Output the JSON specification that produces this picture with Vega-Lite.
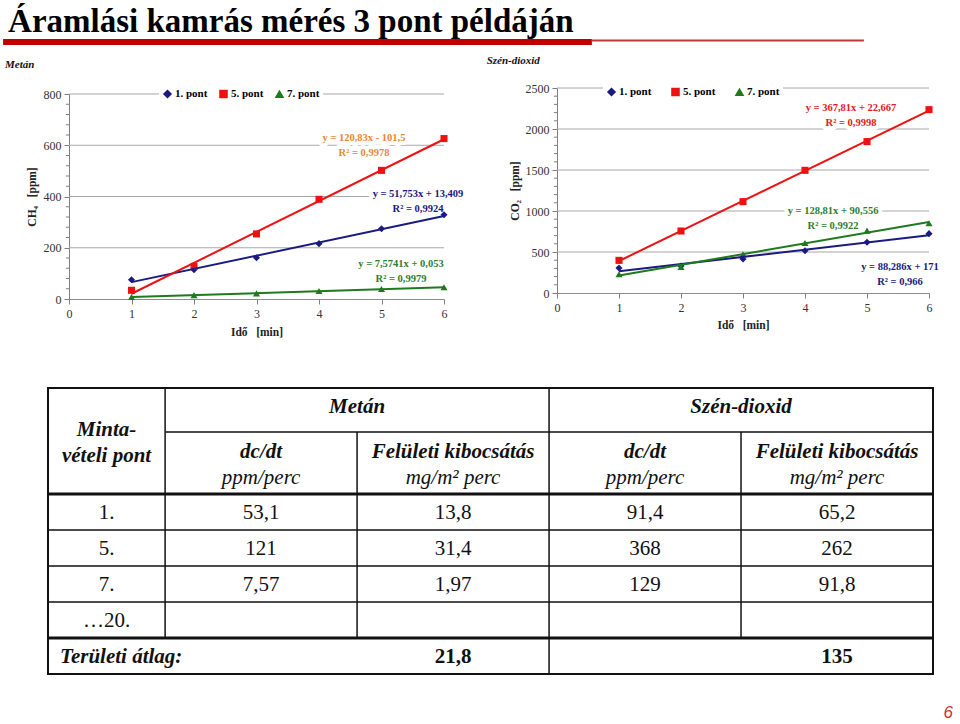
{
  "$schema": "https://vega.github.io/schema/vega-lite/v6.json",
  "width": 960,
  "height": 724,
  "padding": 0,
  "autosize": {"type": "none"},
  "background": "white",
  "config": {"view": {"stroke": null}, "font": "Liberation Serif"},
  "datasets": {
    "ch4": [
      {"x": 1, "y": 75, "series": "1. pont"}, {"x": 2, "y": 114, "series": "1. pont"}, {"x": 3, "y": 161, "series": "1. pont"},
      {"x": 4, "y": 216, "series": "1. pont"}, {"x": 5, "y": 274, "series": "1. pont"}, {"x": 6, "y": 329, "series": "1. pont"},
      {"x": 1, "y": 34, "series": "5. pont"}, {"x": 2, "y": 127, "series": "5. pont"}, {"x": 3, "y": 254, "series": "5. pont"},
      {"x": 4, "y": 389, "series": "5. pont"}, {"x": 5, "y": 502, "series": "5. pont"}, {"x": 6, "y": 626, "series": "5. pont"},
      {"x": 1, "y": 8, "series": "7. pont"}, {"x": 2, "y": 15, "series": "7. pont"}, {"x": 3, "y": 22, "series": "7. pont"},
      {"x": 4, "y": 31, "series": "7. pont"}, {"x": 5, "y": 39, "series": "7. pont"}, {"x": 6, "y": 46, "series": "7. pont"}
    ],
    "co2": [
      {"x": 1, "y": 305, "series": "1. pont"}, {"x": 2, "y": 330, "series": "1. pont"}, {"x": 3, "y": 415, "series": "1. pont"},
      {"x": 4, "y": 516, "series": "1. pont"}, {"x": 5, "y": 618, "series": "1. pont"}, {"x": 6, "y": 724, "series": "1. pont"},
      {"x": 1, "y": 398, "series": "5. pont"}, {"x": 2, "y": 756, "series": "5. pont"}, {"x": 3, "y": 1114, "series": "5. pont"},
      {"x": 4, "y": 1496, "series": "5. pont"}, {"x": 5, "y": 1846, "series": "5. pont"}, {"x": 6, "y": 2236, "series": "5. pont"},
      {"x": 1, "y": 228, "series": "7. pont"}, {"x": 2, "y": 317, "series": "7. pont"}, {"x": 3, "y": 472, "series": "7. pont"},
      {"x": 4, "y": 610, "series": "7. pont"}, {"x": 5, "y": 760, "series": "7. pont"}, {"x": 6, "y": 850, "series": "7. pont"}
    ],
    "minorA": [
      {"m": 40}, {"m": 80}, {"m": 120}, {"m": 160}, {"m": 240}, {"m": 280}, {"m": 320}, {"m": 360},
      {"m": 440}, {"m": 480}, {"m": 520}, {"m": 560}, {"m": 640}, {"m": 680}, {"m": 720}, {"m": 760}
    ],
    "minorB": [
      {"m": 100}, {"m": 200}, {"m": 300}, {"m": 400}, {"m": 600}, {"m": 700}, {"m": 800}, {"m": 900},
      {"m": 1100}, {"m": 1200}, {"m": 1300}, {"m": 1400}, {"m": 1600}, {"m": 1700}, {"m": 1800}, {"m": 1900},
      {"m": 2100}, {"m": 2200}, {"m": 2300}, {"m": 2400}
    ],
    "tableThin": [
      {"x": 0.61, "x2": 4.61, "y": 1.222, "y2": 1.222},
      {"x": 0, "x2": 4.61, "y": 3.944, "y2": 3.944},
      {"x": 0, "x2": 4.61, "y": 4.944, "y2": 4.944},
      {"x": 0, "x2": 4.61, "y": 5.944, "y2": 5.944},
      {"x": 0.61, "x2": 0.61, "y": 0, "y2": 6.944},
      {"x": 1.61, "x2": 1.61, "y": 1.222, "y2": 6.944},
      {"x": 2.61, "x2": 2.61, "y": 0, "y2": 7.944},
      {"x": 3.61, "x2": 3.61, "y": 1.222, "y2": 6.944}
    ],
    "tableThick": [
      {"x": 0, "x2": 4.61, "y": 2.944, "y2": 2.944},
      {"x": 0, "x2": 4.61, "y": 6.944, "y2": 6.944}
    ],
    "hdrBI": [
      {"c": 0.305, "r": 1.17, "t": "Minta-"},
      {"c": 0.305, "r": 1.89, "t": "vételi pont"},
      {"c": 1.61, "r": 0.53, "t": "Metán"},
      {"c": 3.61, "r": 0.53, "t": "Szén-dioxid"},
      {"c": 1.11, "r": 1.78, "t": "dc/dt"},
      {"c": 2.11, "r": 1.78, "t": "Felületi kibocsátás"},
      {"c": 3.11, "r": 1.78, "t": "dc/dt"},
      {"c": 4.11, "r": 1.78, "t": "Felületi kibocsátás"}
    ],
    "units": [
      {"c": 1.11, "r": 2.5, "t": "ppm/perc"},
      {"c": 2.11, "r": 2.5, "t": "mg/m² perc"},
      {"c": 3.11, "r": 2.5, "t": "ppm/perc"},
      {"c": 4.11, "r": 2.5, "t": "mg/m² perc"}
    ],
    "body": [
      {"c": 0.305, "r": 3.47, "t": "1."}, {"c": 1.11, "r": 3.47, "t": "53,1"}, {"c": 2.11, "r": 3.47, "t": "13,8"}, {"c": 3.11, "r": 3.47, "t": "91,4"}, {"c": 4.11, "r": 3.47, "t": "65,2"},
      {"c": 0.305, "r": 4.47, "t": "5."}, {"c": 1.11, "r": 4.47, "t": "121"}, {"c": 2.11, "r": 4.47, "t": "31,4"}, {"c": 3.11, "r": 4.47, "t": "368"}, {"c": 4.11, "r": 4.47, "t": "262"},
      {"c": 0.305, "r": 5.47, "t": "7."}, {"c": 1.11, "r": 5.47, "t": "7,57"}, {"c": 2.11, "r": 5.47, "t": "1,97"}, {"c": 3.11, "r": 5.47, "t": "129"}, {"c": 4.11, "r": 5.47, "t": "91,8"},
      {"c": 0.305, "r": 6.47, "t": "…20."}
    ],
    "footB": [
      {"c": 2.11, "r": 7.47, "t": "21,8"},
      {"c": 4.11, "r": 7.47, "t": "135"}
    ],
    "footL": [
      {"c": 0.0625, "r": 7.47, "t": "Területi átlag:"}
    ]
  },
  "layer": [
    {
      "layer": [
        {
          "data": {"values": [{"g": 200}, {"g": 400}, {"g": 600}, {"g": 800}]},
          "mark": {"type": "rule", "color": "#a8a8a8", "strokeWidth": 1},
          "encoding": {
            "x": {"datum": 0, "type": "quantitative"},
            "x2": {"datum": 6},
            "y": {"field": "g", "type": "quantitative"}
          }
        },
        {
          "data": {"name": "minorA"},
          "mark": {"type": "rule", "color": "#7f7f7f", "strokeWidth": 1},
          "encoding": {
            "x": {"datum": 0, "type": "quantitative"},
            "x2": {"datum": -0.05},
            "y": {"field": "m", "type": "quantitative"}
          }
        },
        {
          "data": {"values": [{}]},
          "mark": {"type": "text", "text": ["y = 120,83x - 101,5", "R² = 0,9978"], "lineHeight": 15, "font": "Liberation Serif", "fontSize": 10.5, "fontWeight": "bold", "fill": "white", "stroke": "white", "strokeWidth": 8, "strokeJoin": "round", "align": "center", "baseline": "middle"},
          "encoding": {"x": {"datum": 4.72, "type": "quantitative"}, "y": {"datum": 630, "type": "quantitative"}}
        },
        {
          "data": {"values": [{}]},
          "mark": {"type": "text", "text": ["y = 51,753x + 13,409", "R² = 0,9924"], "lineHeight": 15, "font": "Liberation Serif", "fontSize": 10.5, "fontWeight": "bold", "fill": "white", "stroke": "white", "strokeWidth": 8, "strokeJoin": "round", "align": "center", "baseline": "middle"},
          "encoding": {"x": {"datum": 5.584, "type": "quantitative"}, "y": {"datum": 408, "type": "quantitative"}}
        },
        {
          "data": {"values": [{}]},
          "mark": {"type": "text", "text": ["y = 7,5741x + 0,053", "R² = 0,9979"], "lineHeight": 15, "font": "Liberation Serif", "fontSize": 10.5, "fontWeight": "bold", "fill": "white", "stroke": "white", "strokeWidth": 8, "strokeJoin": "round", "align": "center", "baseline": "middle"},
          "encoding": {"x": {"datum": 5.312, "type": "quantitative"}, "y": {"datum": 138, "type": "quantitative"}}
        },
        {
          "data": {"name": "ch4"},
          "mark": {"type": "point", "filled": true, "opacity": 1, "size": 50},
          "encoding": {
            "x": {
              "field": "x", "type": "quantitative",
              "scale": {"domain": [0, 6], "range": [69, 444], "nice": false, "zero": false},
              "axis": {"title": "Idő\u00a0\u00a0\u00a0[min]", "orient": "bottom", "offset": -425, "values": [0, 1, 2, 3, 4, 5, 6], "format": "d", "grid": false, "domainColor": "#8c8c8c", "tickColor": "#7f7f7f", "tickSize": 5, "labelFont": "Liberation Serif", "labelFontSize": 12, "labelColor": "#333", "labelPadding": 4, "labelFlush": false, "labelOverlap": false, "titleFont": "Liberation Serif", "titleFontSize": 11.5, "titleFontWeight": "bold", "titleColor": "#222", "titlePadding": 7}
            },
            "y": {
              "field": "y", "type": "quantitative",
              "scale": {"domain": [0, 800], "range": [299, 94], "nice": false, "zero": false},
              "axis": {"title": "CH₄\u00a0\u00a0\u00a0[ppm]", "orient": "left", "offset": -69, "values": [0, 200, 400, 600, 800], "format": "d", "grid": false, "domainColor": "#7f7f7f", "tickColor": "#7f7f7f", "tickSize": 5, "labelFont": "Liberation Serif", "labelFontSize": 12, "labelColor": "#333", "labelPadding": 3, "labelFlush": false, "labelOverlap": false, "titleFont": "Liberation Serif", "titleFontSize": 11.5, "titleFontWeight": "bold", "titleColor": "#222", "titlePadding": 6}
            },
            "color": {
              "field": "series", "type": "nominal",
              "scale": {"domain": ["1. pont", "5. pont", "7. pont"], "range": ["#1a1a80", "#ee1111", "#1e7a1e"]},
              "legend": {"title": null, "orient": "none", "legendX": 159, "legendY": 85, "direction": "horizontal", "fillColor": "white", "padding": 3, "labelFont": "Liberation Serif", "labelFontWeight": "bold", "labelFontSize": 11, "labelColor": "black", "symbolSize": 50, "labelOffset": 2, "columnPadding": 8}
            },
            "shape": {
              "field": "series", "type": "nominal",
              "scale": {"domain": ["1. pont", "5. pont", "7. pont"], "range": ["diamond", "square", "triangle-up"]},
              "legend": {"title": null, "orient": "none", "legendX": 159, "legendY": 85, "direction": "horizontal", "fillColor": "white", "padding": 3, "labelFont": "Liberation Serif", "labelFontWeight": "bold", "labelFontSize": 11, "labelColor": "black", "symbolSize": 50, "labelOffset": 2, "columnPadding": 8}
            }
          }
        },
        {
          "data": {"name": "ch4"},
          "transform": [{"regression": "y", "on": "x", "groupby": ["series"]}],
          "mark": {"type": "line", "strokeWidth": 2},
          "encoding": {
            "x": {"field": "x", "type": "quantitative"},
            "y": {"field": "y", "type": "quantitative"},
            "color": {"field": "series", "type": "nominal", "legend": null}
          }
        },
        {
          "data": {"values": [{}]},
          "mark": {"type": "text", "text": ["y = 120,83x - 101,5", "R² = 0,9978"], "lineHeight": 15, "font": "Liberation Serif", "fontSize": 10.5, "fontWeight": "bold", "fill": "#e8873a", "align": "center", "baseline": "middle"},
          "encoding": {"x": {"datum": 4.72, "type": "quantitative"}, "y": {"datum": 630, "type": "quantitative"}}
        },
        {
          "data": {"values": [{}]},
          "mark": {"type": "text", "text": ["y = 51,753x + 13,409", "R² = 0,9924"], "lineHeight": 15, "font": "Liberation Serif", "fontSize": 10.5, "fontWeight": "bold", "fill": "#1a1a80", "align": "center", "baseline": "middle"},
          "encoding": {"x": {"datum": 5.584, "type": "quantitative"}, "y": {"datum": 408, "type": "quantitative"}}
        },
        {
          "data": {"values": [{}]},
          "mark": {"type": "text", "text": ["y = 7,5741x + 0,053", "R² = 0,9979"], "lineHeight": 15, "font": "Liberation Serif", "fontSize": 10.5, "fontWeight": "bold", "fill": "#2e7d32", "align": "center", "baseline": "middle"},
          "encoding": {"x": {"datum": 5.312, "type": "quantitative"}, "y": {"datum": 138, "type": "quantitative"}}
        },
        {
          "data": {"values": [{}]},
          "mark": {"type": "text", "text": "Metán", "font": "Liberation Serif", "fontSize": 11, "fontWeight": "bold", "fontStyle": "italic", "fill": "#111", "align": "left", "baseline": "middle"},
          "encoding": {"x": {"datum": -1.024, "type": "quantitative"}, "y": {"datum": 913, "type": "quantitative"}}
        }
      ]
    },
    {
      "layer": [
        {
          "data": {"values": [{"g": 500}, {"g": 1000}, {"g": 1500}, {"g": 2000}, {"g": 2500}]},
          "mark": {"type": "rule", "color": "#a8a8a8", "strokeWidth": 1},
          "encoding": {
            "x": {"datum": 0, "type": "quantitative"},
            "x2": {"datum": 6},
            "y": {"field": "g", "type": "quantitative"}
          }
        },
        {
          "data": {"name": "minorB"},
          "mark": {"type": "rule", "color": "#7f7f7f", "strokeWidth": 1},
          "encoding": {
            "x": {"datum": 0, "type": "quantitative"},
            "x2": {"datum": -0.05},
            "y": {"field": "m", "type": "quantitative"}
          }
        },
        {
          "data": {"values": [{}]},
          "mark": {"type": "text", "text": ["y = 367,81x + 22,667", "R² = 0,9998"], "lineHeight": 15, "font": "Liberation Serif", "fontSize": 10.5, "fontWeight": "bold", "fill": "white", "stroke": "white", "strokeWidth": 8, "strokeJoin": "round", "align": "center", "baseline": "middle"},
          "encoding": {"x": {"datum": 4.742, "type": "quantitative"}, "y": {"datum": 2252, "type": "quantitative"}}
        },
        {
          "data": {"values": [{}]},
          "mark": {"type": "text", "text": ["y = 128,81x + 90,556", "R² = 0,9922"], "lineHeight": 15, "font": "Liberation Serif", "fontSize": 10.5, "fontWeight": "bold", "fill": "white", "stroke": "white", "strokeWidth": 8, "strokeJoin": "round", "align": "center", "baseline": "middle"},
          "encoding": {"x": {"datum": 4.452, "type": "quantitative"}, "y": {"datum": 1000, "type": "quantitative"}}
        },
        {
          "data": {"values": [{}]},
          "mark": {"type": "text", "text": ["y = 88,286x + 171", "R² = 0,966"], "lineHeight": 15, "font": "Liberation Serif", "fontSize": 10.5, "fontWeight": "bold", "fill": "white", "stroke": "white", "strokeWidth": 8, "strokeJoin": "round", "align": "center", "baseline": "middle"},
          "encoding": {"x": {"datum": 5.532, "type": "quantitative"}, "y": {"datum": 317, "type": "quantitative"}}
        },
        {
          "data": {"name": "co2"},
          "mark": {"type": "point", "filled": true, "opacity": 1, "size": 50},
          "encoding": {
            "x": {
              "field": "x", "type": "quantitative",
              "scale": {"domain": [0, 6], "range": [557, 929], "nice": false, "zero": false},
              "axis": {"title": "Idő\u00a0\u00a0\u00a0[min]", "orient": "bottom", "offset": -431, "values": [0, 1, 2, 3, 4, 5, 6], "format": "d", "grid": false, "domainColor": "#8c8c8c", "tickColor": "#7f7f7f", "tickSize": 5, "labelFont": "Liberation Serif", "labelFontSize": 12, "labelColor": "#333", "labelPadding": 4, "labelFlush": false, "labelOverlap": false, "titleFont": "Liberation Serif", "titleFontSize": 11.5, "titleFontWeight": "bold", "titleColor": "#222", "titlePadding": 6}
            },
            "y": {
              "field": "y", "type": "quantitative",
              "scale": {"domain": [0, 2500], "range": [293, 88], "nice": false, "zero": false},
              "axis": {"title": "CO₂\u00a0\u00a0\u00a0[ppm]", "orient": "left", "offset": -557, "values": [0, 500, 1000, 1500, 2000, 2500], "format": "d", "grid": false, "domainColor": "#7f7f7f", "tickColor": "#7f7f7f", "tickSize": 5, "labelFont": "Liberation Serif", "labelFontSize": 12, "labelColor": "#333", "labelPadding": 3, "labelFlush": false, "labelOverlap": false, "titleFont": "Liberation Serif", "titleFontSize": 11.5, "titleFontWeight": "bold", "titleColor": "#222", "titlePadding": 5}
            },
            "color": {
              "field": "series", "type": "nominal",
              "scale": {"domain": ["1. pont", "5. pont", "7. pont"], "range": ["#1a1a80", "#ee1111", "#1e7a1e"]},
              "legend": {"title": null, "orient": "none", "legendX": 603, "legendY": 83, "direction": "horizontal", "fillColor": "white", "padding": 3, "labelFont": "Liberation Serif", "labelFontWeight": "bold", "labelFontSize": 11, "labelColor": "black", "symbolSize": 50, "labelOffset": 2, "columnPadding": 16}
            },
            "shape": {
              "field": "series", "type": "nominal",
              "scale": {"domain": ["1. pont", "5. pont", "7. pont"], "range": ["diamond", "square", "triangle-up"]},
              "legend": {"title": null, "orient": "none", "legendX": 603, "legendY": 83, "direction": "horizontal", "fillColor": "white", "padding": 3, "labelFont": "Liberation Serif", "labelFontWeight": "bold", "labelFontSize": 11, "labelColor": "black", "symbolSize": 50, "labelOffset": 2, "columnPadding": 16}
            }
          }
        },
        {
          "data": {"name": "co2"},
          "transform": [{"regression": "y", "on": "x", "groupby": ["series"]}],
          "mark": {"type": "line", "strokeWidth": 2},
          "encoding": {
            "x": {"field": "x", "type": "quantitative"},
            "y": {"field": "y", "type": "quantitative"},
            "color": {"field": "series", "type": "nominal", "legend": null}
          }
        },
        {
          "data": {"values": [{}]},
          "mark": {"type": "text", "text": ["y = 367,81x + 22,667", "R² = 0,9998"], "lineHeight": 15, "font": "Liberation Serif", "fontSize": 10.5, "fontWeight": "bold", "fill": "#e02020", "align": "center", "baseline": "middle"},
          "encoding": {"x": {"datum": 4.742, "type": "quantitative"}, "y": {"datum": 2252, "type": "quantitative"}}
        },
        {
          "data": {"values": [{}]},
          "mark": {"type": "text", "text": ["y = 128,81x + 90,556", "R² = 0,9922"], "lineHeight": 15, "font": "Liberation Serif", "fontSize": 10.5, "fontWeight": "bold", "fill": "#2e7d32", "align": "center", "baseline": "middle"},
          "encoding": {"x": {"datum": 4.452, "type": "quantitative"}, "y": {"datum": 1000, "type": "quantitative"}}
        },
        {
          "data": {"values": [{}]},
          "mark": {"type": "text", "text": ["y = 88,286x + 171", "R² = 0,966"], "lineHeight": 15, "font": "Liberation Serif", "fontSize": 10.5, "fontWeight": "bold", "fill": "#1a1a80", "align": "center", "baseline": "middle"},
          "encoding": {"x": {"datum": 5.532, "type": "quantitative"}, "y": {"datum": 317, "type": "quantitative"}}
        },
        {
          "data": {"values": [{}]},
          "mark": {"type": "text", "text": "Szén-dioxid", "font": "Liberation Serif", "fontSize": 11, "fontWeight": "bold", "fontStyle": "italic", "fill": "#111", "align": "left", "baseline": "middle"},
          "encoding": {"x": {"datum": -1.134, "type": "quantitative"}, "y": {"datum": 2833, "type": "quantitative"}}
        }
      ]
    },
    {
      "layer": [
        {
          "data": {"name": "tableThin"},
          "mark": {"type": "rule", "color": "#111", "strokeWidth": 1.5},
          "encoding": {
            "x": {"field": "x", "type": "quantitative", "scale": {"domain": [0, 4.61], "range": [48, 933], "nice": false, "zero": false}, "axis": null},
            "x2": {"field": "x2"},
            "y": {"field": "y", "type": "quantitative", "scale": {"domain": [0, 7.944], "range": [388, 674], "nice": false, "zero": false}, "axis": null},
            "y2": {"field": "y2"}
          }
        },
        {
          "data": {"name": "tableThick"},
          "mark": {"type": "rule", "color": "#111", "strokeWidth": 3},
          "encoding": {
            "x": {"field": "x", "type": "quantitative", "axis": null},
            "x2": {"field": "x2"},
            "y": {"field": "y", "type": "quantitative", "axis": null},
            "y2": {"field": "y2"}
          }
        },
        {
          "data": {"values": [{}]},
          "mark": {"type": "rect", "filled": false, "stroke": "#111", "strokeWidth": 2},
          "encoding": {
            "x": {"datum": 0, "type": "quantitative", "axis": null},
            "x2": {"datum": 4.61},
            "y": {"datum": 0, "type": "quantitative", "axis": null},
            "y2": {"datum": 7.944}
          }
        },
        {
          "data": {"values": [{}]},
          "mark": {"type": "text", "text": "Áramlási kamrás mérés 3 pont példáján", "font": "Liberation Serif", "fontSize": 33, "fontWeight": "bold", "fill": "black", "align": "left", "baseline": "alphabetic"},
          "encoding": {"x": {"datum": -0.208, "type": "quantitative", "axis": null}, "y": {"datum": -9.889, "type": "quantitative", "axis": null}}
        },
        {
          "data": {"values": [{}]},
          "mark": {"type": "rect", "fill": "#c00000"},
          "encoding": {
            "x": {"datum": -0.234, "type": "quantitative", "axis": null},
            "x2": {"datum": 2.833},
            "y": {"datum": -9.694, "type": "quantitative", "axis": null},
            "y2": {"datum": -9.528}
          }
        },
        {
          "data": {"values": [{}]},
          "mark": {"type": "rule", "color": "#c0393b", "strokeWidth": 2},
          "encoding": {
            "x": {"datum": 2.833, "type": "quantitative", "axis": null},
            "x2": {"datum": 4.25},
            "y": {"datum": -9.653, "type": "quantitative", "axis": null}
          }
        },
        {
          "data": {"name": "hdrBI"},
          "mark": {"type": "text", "font": "Liberation Serif", "fontSize": 21, "fontWeight": "bold", "fontStyle": "italic", "fill": "#111", "align": "center", "baseline": "middle"},
          "encoding": {"x": {"field": "c", "type": "quantitative", "axis": null}, "y": {"field": "r", "type": "quantitative", "axis": null}, "text": {"field": "t"}}
        },
        {
          "data": {"name": "units"},
          "mark": {"type": "text", "font": "Liberation Serif", "fontSize": 21, "fontStyle": "italic", "fill": "#111", "align": "center", "baseline": "middle"},
          "encoding": {"x": {"field": "c", "type": "quantitative", "axis": null}, "y": {"field": "r", "type": "quantitative", "axis": null}, "text": {"field": "t"}}
        },
        {
          "data": {"name": "body"},
          "mark": {"type": "text", "font": "Liberation Serif", "fontSize": 21, "fill": "#111", "align": "center", "baseline": "middle"},
          "encoding": {"x": {"field": "c", "type": "quantitative", "axis": null}, "y": {"field": "r", "type": "quantitative", "axis": null}, "text": {"field": "t"}}
        },
        {
          "data": {"name": "footB"},
          "mark": {"type": "text", "font": "Liberation Serif", "fontSize": 21, "fontWeight": "bold", "fill": "#111", "align": "center", "baseline": "middle"},
          "encoding": {"x": {"field": "c", "type": "quantitative", "axis": null}, "y": {"field": "r", "type": "quantitative", "axis": null}, "text": {"field": "t"}}
        },
        {
          "data": {"name": "footL"},
          "mark": {"type": "text", "font": "Liberation Serif", "fontSize": 21, "fontWeight": "bold", "fontStyle": "italic", "fill": "#111", "align": "left", "baseline": "middle"},
          "encoding": {"x": {"field": "c", "type": "quantitative", "axis": null}, "y": {"field": "r", "type": "quantitative", "axis": null}, "text": {"field": "t"}}
        },
        {
          "data": {"values": [{}]},
          "mark": {"type": "text", "text": "6", "font": "Liberation Sans", "fontSize": 17, "fontStyle": "italic", "fill": "#cc3333", "align": "center", "baseline": "middle"},
          "encoding": {"x": {"datum": 4.69, "type": "quantitative", "axis": null}, "y": {"datum": 9.03, "type": "quantitative", "axis": null}}
        }
      ]
    }
  ],
  "resolve": {
    "scale": {"x": "independent", "y": "independent", "color": "independent", "shape": "independent"},
    "axis": {"x": "independent", "y": "independent"},
    "legend": {"color": "independent", "shape": "independent"}
  }
}
